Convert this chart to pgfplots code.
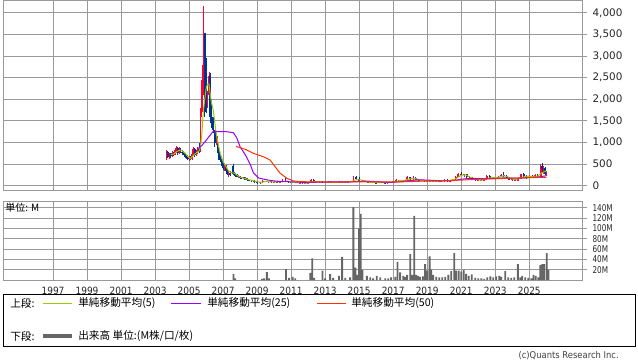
\documentclass[border=0pt]{standalone}
\usepackage{pgfplots}
\pgfplotsset{compat=1.18}
\usepackage{pgfplotstable}
\usepackage{fontspec}
\setmainfont{DejaVu Sans}
\newfontfamily\jp{Noto Sans CJK JP}
\newfontfamily\tickfont{DejaVu Sans}
\newfontfamily\yearfont[FakeStretch=0.9]{DejaVu Sans}
\newfontfamily\narrowfont[FakeStretch=0.78]{DejaVu Sans}
\definecolor{upred}{HTML}{FF0033}
\definecolor{dnblue}{HTML}{003399}
\definecolor{ma5}{HTML}{99CC00}
\definecolor{ma25}{HTML}{9900FF}
\definecolor{ma50}{HTML}{FF3300}
\definecolor{vol}{HTML}{666666}
\definecolor{gridc}{HTML}{999999}

\pgfplotstableread{
x o h l c
2003.67 650 830 600 780
2003.83 660 760 620 720
2004.00 680 800 660 760
2004.17 720 860 700 820
2004.25 820 930 760 880
2004.42 760 900 740 850
2005.00 620 680 580 660
2005.17 610 760 600 740
2005.25 740 900 700 850
2005.42 700 820 680 780
2005.50 780 900 740 860
2005.67 800 1800 780 1700
2005.75 1700 2450 1600 2300
2005.83 2300 4170 2100 2800
2006.08 1800 2200 1800 2100
2006.17 2100 2640 1920 2550
2006.58 1000 1230 950 1150
2007.08 400 530 350 450
2007.33 280 340 210 300
2007.92 210 250 180 220
2008.17 170 200 150 190
2008.33 150 190 130 170
2008.67 110 140 90 120
2009.17 60 90 40 80
2009.33 80 140 70 110
2009.67 90 115 70 100
2010.00 80 110 70 95
2010.33 75 90 60 85
2010.50 85 150 80 110
2011.17 70 85 55 75
2011.50 60 80 50 70
2011.83 55 70 45 65
2012.17 60 160 60 130
2012.67 80 110 70 95
2013.17 85 105 75 95
2013.50 80 95 70 90
2013.83 75 120 70 100
2014.17 80 95 70 90
2014.50 85 110 80 100
2014.67 100 230 95 200
2015.67 80 95 65 85
2016.17 65 80 55 75
2016.67 65 75 55 70
2016.83 70 90 60 80
2017.00 80 110 70 100
2017.17 100 150 95 130
2017.50 110 130 95 120
2017.67 120 140 100 130
2017.83 130 230 120 200
2018.17 160 220 140 180
2018.67 120 140 100 130
2019.00 100 130 90 120
2019.50 100 120 85 110
2019.83 90 110 80 100
2020.00 100 150 90 140
2020.33 100 130 95 120
2020.50 120 160 110 150
2020.67 150 230 140 210
2020.83 210 300 200 280
2021.17 240 280 200 260
2022.00 130 150 100 140
2022.33 110 160 100 150
2022.50 150 250 140 220
2022.83 180 200 150 190
2023.17 160 220 150 210
2023.33 210 260 190 250
2024.00 140 160 110 150
2024.33 120 170 115 160
2024.50 160 280 150 260
2025.00 180 250 170 230
2025.33 200 260 190 240
2025.67 220 500 210 450
2025.83 380 450 280 420
2026.00 280 330 230 300
}\upc

\pgfplotstableread{
x o h l c
2003.75 780 800 640 660
2003.92 720 760 650 680
2004.08 760 790 690 720
2004.33 880 900 720 760
2004.50 850 880 760 790
2004.58 790 820 720 760
2004.67 760 800 700 740
2004.75 740 760 660 680
2004.83 680 720 620 650
2004.92 650 700 590 620
2005.08 660 690 590 610
2005.33 850 880 660 700
2005.58 860 1000 750 800
2005.92 3540 3540 1600 1700
2006.00 2960 2960 1690 1800
2006.25 2550 2600 1460 1600
2006.33 1600 2000 1340 1400
2006.42 1400 1600 1230 1300
2006.50 1300 1300 900 1000
2006.67 1150 1150 750 800
2006.75 800 900 600 650
2006.83 650 700 550 600
2006.92 600 670 450 480
2007.00 480 550 370 400
2007.17 450 480 300 330
2007.25 330 380 250 280
2007.42 300 330 230 250
2007.58 450 510 250 280
2007.67 280 320 220 250
2007.75 250 290 200 240
2007.83 240 270 190 210
2008.00 220 230 160 180
2008.08 180 210 150 170
2008.25 190 200 140 150
2008.42 170 180 120 130
2008.50 130 150 100 110
2008.83 120 130 70 80
2009.00 80 100 50 60
2009.50 110 120 80 90
2009.83 100 105 70 80
2010.17 95 100 70 75
2010.67 110 180 90 100
2010.83 100 110 70 80
2011.00 80 90 60 70
2011.33 75 80 55 60
2011.67 70 75 50 55
2012.00 65 80 55 60
2012.33 130 150 90 100
2012.50 100 110 75 80
2012.83 95 120 80 90
2013.00 90 100 75 85
2013.33 95 100 70 80
2013.67 90 95 70 75
2014.00 100 110 75 80
2014.33 90 100 75 85
2014.83 200 220 130 150
2015.00 150 190 110 120
2015.17 120 130 90 100
2015.33 100 115 85 90
2015.50 90 100 70 80
2015.83 85 90 65 70
2016.00 70 80 55 65
2016.33 75 85 60 70
2016.50 70 80 55 65
2017.33 130 140 100 110
2018.00 200 210 140 160
2018.33 180 190 130 140
2018.50 140 150 110 120
2018.83 130 135 95 100
2019.17 120 140 100 110
2019.33 110 125 90 100
2019.67 110 115 85 90
2020.17 140 150 90 100
2021.00 280 320 220 240
2021.33 260 270 180 200
2021.50 200 220 160 170
2021.67 170 190 140 150
2021.83 150 170 120 130
2022.17 140 145 100 110
2022.67 220 240 160 180
2023.00 190 200 150 160
2023.50 250 320 210 230
2023.67 230 240 170 180
2023.83 180 190 130 140
2024.17 150 155 110 120
2024.67 260 300 200 220
2024.83 220 240 160 180
2025.17 230 240 180 200
2025.50 240 270 200 220
2025.75 450 520 300 380
2025.92 420 430 250 280
}\dnc

\pgfplotstableread{
x v
2007.61 11.6
2007.71 3
2009.29 2
2009.41 3
2009.57 15.5
2009.70 3
2010.70 21
2010.88 4
2011.09 6
2011.24 3
2012.12 14
2012.24 42
2012.35 4
2012.84 18
2013.00 3
2013.29 11.6
2013.47 4
2013.81 8
2014.00 45
2014.18 4
2014.47 5
2014.66 141
2014.78 24
2014.88 10
2015.00 100
2015.09 128
2015.19 19
2015.45 8
2015.65 5
2015.82 3
2016.03 8
2016.24 5
2016.53 3
2016.71 3
2016.88 5
2017.12 6
2017.25 35
2017.41 15
2017.59 8
2017.71 6
2017.82 10
2018.00 50
2018.12 10
2018.24 124
2018.35 10
2018.47 8
2018.59 6
2018.76 7
2018.88 31
2019.00 18
2019.14 46
2019.24 20
2019.35 10
2019.53 6
2019.71 5
2019.88 5
2020.06 6
2020.24 10
2020.41 17
2020.59 52
2020.71 18
2020.85 18
2021.00 16
2021.15 19
2021.29 12
2021.44 8
2021.62 11
2021.82 4
2022.00 3
2022.18 3
2022.35 2
2022.53 5
2022.71 7
2022.88 5
2023.06 7
2023.24 8
2023.35 6
2023.59 17
2023.76 5
2023.94 4
2024.12 5
2024.33 31
2024.47 5
2024.59 8
2024.76 5
2024.94 4
2025.12 3
2025.25 10
2025.38 8
2025.53 5
2025.65 29
2025.76 31
2025.88 31
2026.03 52
2026.12 20
}\voltab

\begin{document}
\begin{tikzpicture}
\path[use as bounding box] (0pt,0pt) rectangle (478.5pt,-271.5pt);

% upper panel
\begin{axis}[
  at={(2.25pt,-142.5pt)}, anchor=south west,
  width=434.25pt, height=142.5pt, scale only axis,
  xmin=1994.06, xmax=2028.1, ymin=-100, ymax=4300,
  xtick={1997,1999,...,2025}, xticklabels={},
  ytick={0,500,...,4000},
  grid=major, major grid style={gridc, line width=0.75pt},
  axis line style={gridc, line width=0.75pt},
  ytick pos=right, yticklabel pos=right,
  xtick style={draw=none}, ytick style={gridc, line width=0.75pt},
  tick align=outside, major tick length=3.75pt,
  yticklabel style={font=\tickfont\fontsize{7.8}{9}\selectfont, anchor=west, inner sep=0pt, xshift=4pt, text=black!85},
  /pgf/number format/.cd, 1000 sep={,}, assume math mode=true,
]
\addplot[draw=none, forget plot, error bars/.cd, y dir=plus, y explicit, error mark=none,
  error bar style={draw=upred, line width=0.55pt, solid}]
  table[x=x, y=l, y error plus expr=\thisrow{h}-\thisrow{l}] {\upc};
\addplot[draw=none, forget plot, error bars/.cd, y dir=plus, y explicit, error mark=none,
  error bar style={draw=upred, line width=1.35pt, solid}]
  table[x=x, y=o, y error plus expr=\thisrow{c}-\thisrow{o}] {\upc};
\addplot[draw=none, forget plot, error bars/.cd, y dir=plus, y explicit, error mark=none,
  error bar style={draw=dnblue, line width=0.55pt, solid}]
  table[x=x, y=l, y error plus expr=\thisrow{h}-\thisrow{l}] {\dnc};
\addplot[draw=none, forget plot, error bars/.cd, y dir=plus, y explicit, error mark=none,
  error bar style={draw=dnblue, line width=1.35pt, solid}]
  table[x=x, y=c, y error plus expr=\thisrow{o}-\thisrow{c}] {\dnc};

% MA5
\addplot[ma5, line width=0.75pt, mark=none] coordinates {
(2003.92,720) (2004.08,730) (2004.25,780) (2004.42,820) (2004.58,810) (2004.75,760)
(2004.92,680) (2005.08,630) (2005.25,700) (2005.42,760) (2005.58,800) (2005.67,900)
(2005.75,1200) (2005.83,1700) (2005.92,2000) (2006.00,2250) (2006.08,2350) (2006.17,2350)
(2006.25,2100) (2006.33,1900) (2006.42,1750) (2006.50,1500) (2006.58,1250) (2006.67,1050)
(2006.75,900) (2006.83,750) (2006.92,640) (2007.00,560) (2007.17,440) (2007.33,340)
(2007.50,300) (2007.67,290) (2007.83,240) (2008.00,200) (2008.25,170) (2008.50,140)
(2008.75,120) (2009.00,90) (2009.25,80) (2009.50,95) (2009.75,90) (2010.00,85)
(2010.50,95) (2010.75,110) (2011.00,80) (2011.50,65) (2012.00,60) (2012.33,100)
(2012.67,90) (2013.00,85) (2013.50,85) (2014.00,85) (2014.50,90) (2014.83,140)
(2015.17,130) (2015.50,90) (2016.00,70) (2016.50,68) (2017.00,85) (2017.33,115)
(2017.67,125) (2018.00,160) (2018.33,165) (2018.67,125) (2019.00,110) (2019.50,105)
(2020.00,115) (2020.33,120) (2020.67,160) (2021.00,240) (2021.25,250) (2021.50,200)
(2021.83,150) (2022.17,125) (2022.50,160) (2022.83,195) (2023.17,190) (2023.50,230)
(2023.83,190) (2024.17,135) (2024.50,180) (2024.83,220) (2025.17,210) (2025.50,225)
(2025.75,300) (2026.00,340)
};
% MA25
\addplot[ma25, line width=0.75pt, mark=none] coordinates {
(2005.50,850) (2005.75,930) (2006.00,1050) (2006.20,1150) (2006.40,1250) (2007.20,1250)
(2007.60,1230) (2007.80,1110) (2008.00,900) (2008.30,720) (2008.60,490) (2008.78,300)
(2009.08,180) (2009.57,135) (2010.00,110) (2010.50,95) (2011.00,90) (2011.50,80)
(2012.00,75) (2012.50,80) (2013.00,85) (2013.50,88) (2014.00,85) (2014.50,88)
(2015.00,100) (2015.50,105) (2016.00,95) (2016.50,80) (2017.00,78) (2017.50,95)
(2018.00,120) (2018.50,135) (2019.00,130) (2019.50,120) (2020.00,110) (2020.50,115)
(2021.00,150) (2021.50,170) (2022.00,165) (2022.50,160) (2023.00,170) (2023.50,180)
(2024.00,175) (2024.50,175) (2025.00,190) (2025.50,200) (2026.00,230)
};
% MA50
\addplot[ma50, line width=0.75pt, mark=none] coordinates {
(2007.76,910) (2008.29,845) (2008.78,750) (2009.37,670) (2009.76,595) (2010.06,440)
(2010.35,290) (2010.75,170) (2011.14,110) (2011.53,95) (2012.00,90) (2013.00,85)
(2014.00,85) (2015.00,90) (2016.00,90) (2017.00,85) (2018.00,95) (2019.00,110)
(2020.00,115) (2021.00,130) (2022.00,150) (2023.00,160) (2024.00,175) (2025.00,185)
(2026.00,195)
};
\end{axis}

% lower panel
\begin{axis}[
  at={(2.25pt,-210pt)}, anchor=south west,
  width=434.25pt, height=58.875pt, scale only axis,
  xmin=1994.06, xmax=2028.1, ymin=0, ymax=152,
  xtick={1997,1999,...,2025},
  xticklabels={1997,1999,2001,2003,2005,2007,2009,2011,2013,2015,2017,2019,2021,2023,2025},
  ytick={20,40,...,140},
  yticklabels={20M,40M,60M,80M,100M,120M,140M},
  grid=major, major grid style={gridc, line width=0.75pt},
  axis line style={gridc, line width=0.75pt},
  ytick pos=right, yticklabel pos=right,
  xtick style={draw=none}, ytick style={gridc, line width=0.75pt},
  tick align=outside, major tick length=3.75pt,
  yticklabel style={font=\narrowfont\fontsize{7}{8}\selectfont, anchor=west, inner sep=0pt, xshift=4pt, text=black!85},
  xticklabel style={font=\yearfont\fontsize{7.5}{9}\selectfont, anchor=north, inner sep=0pt, yshift=-1pt, text=black!85},
]
\addplot[ybar, bar width=0.11, bar shift=0pt, fill=vol, draw=none] table[x=x, y=v] {\voltab};
\end{axis}

\begin{scope}[x=0.75pt, y=-0.75pt]
\node[anchor=west, inner sep=0pt, font=\jp\fontsize{7.5}{8}\selectfont] at (5,208) {単位: M};
\draw[black, line width=0.75pt] (3.5,294.5) rectangle (635.5,346.5);
\node[anchor=west, inner sep=0pt, font=\jp\fontsize{8}{9}\selectfont] at (10,303) {上段:};
\draw[ma5, line width=0.75pt] (43,303) -- (72,303);
\node[anchor=west, inner sep=0pt, font=\jp\fontsize{8}{9}\selectfont] at (78,303) {単純移動平均(5)};
\draw[ma25, line width=0.75pt] (171,303) -- (201,303);
\node[anchor=west, inner sep=0pt, font=\jp\fontsize{8}{9}\selectfont] at (207,303) {単純移動平均(25)};
\draw[ma50, line width=0.75pt] (317,303) -- (346,303);
\node[anchor=west, inner sep=0pt, font=\jp\fontsize{8}{9}\selectfont] at (351,303) {単純移動平均(50)};
\node[anchor=west, inner sep=0pt, font=\jp\fontsize{8}{9}\selectfont] at (10,336) {下段:};
\draw[vol, line width=2.4pt] (43,336) -- (72,336);
\node[anchor=west, inner sep=0pt, font=\jp\fontsize{8}{9}\selectfont] at (78,336) {出来高 単位:(M株/口/枚)};
\node[anchor=east, inner sep=0pt, font=\yearfont\fontsize{7}{8}\selectfont, text=black!75] at (619,356) {(c)Quants Research Inc.};
\end{scope}
\end{tikzpicture}
\end{document}
